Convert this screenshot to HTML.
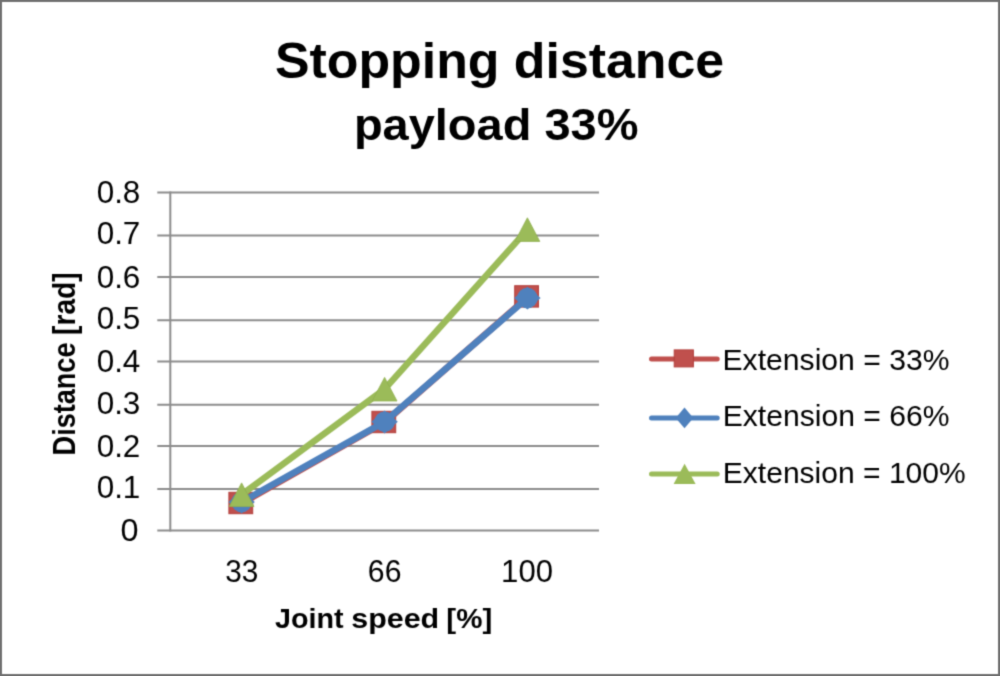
<!DOCTYPE html>
<html>
<head>
<meta charset="utf-8">
<style>
html,body{margin:0;padding:0;background:#fff;}
body{width:1000px;height:676px;overflow:hidden;}
svg{display:block;}
text{font-family:"Liberation Sans",Arial,sans-serif;fill:#000;font-kerning:none;}
.b{font-weight:bold;}
</style>
</head>
<body>
<svg width="1000" height="676" viewBox="0 0 1000 676">
<rect x="0" y="0" width="1000" height="676" fill="#fff"/>
<defs><filter id="sf" x="0" y="0" width="1000" height="676" filterUnits="userSpaceOnUse" color-interpolation-filters="sRGB"><feConvolveMatrix order="3" kernelMatrix="0.0277 0.1110 0.0277 0.1110 0.4452 0.1110 0.0277 0.1110 0.0277" divisor="1" edgeMode="duplicate"/></filter></defs>
<g id="all" filter="url(#sf)">

<text class="b" x="274.91" y="77.80" font-size="50" textLength="449.27" lengthAdjust="spacingAndGlyphs">Stopping distance</text>
<text class="b" x="353.90" y="139.80" font-size="44" textLength="284.53" lengthAdjust="spacingAndGlyphs">payload 33%</text>
<g stroke="#8c8c8c" stroke-width="2" fill="none">
<line x1="157.3" y1="530.50" x2="599" y2="530.50"/>
<line x1="157.3" y1="489.10" x2="599" y2="489.10"/>
<line x1="157.3" y1="446.00" x2="599" y2="446.00"/>
<line x1="157.3" y1="404.70" x2="599" y2="404.70"/>
<line x1="157.3" y1="361.40" x2="599" y2="361.40"/>
<line x1="157.3" y1="320.20" x2="599" y2="320.20"/>
<line x1="157.3" y1="277.00" x2="599" y2="277.00"/>
<line x1="157.3" y1="235.50" x2="599" y2="235.50"/>
<line x1="157.3" y1="192.50" x2="599" y2="192.50"/>
<line x1="170.3" y1="191.50" x2="170.3" y2="531.50"/>
</g>
<text x="120.63" y="540.75" font-size="30.8" textLength="18.03" lengthAdjust="spacingAndGlyphs">0</text>
<text x="96.67" y="497.70" font-size="30.8" textLength="43.69" lengthAdjust="spacingAndGlyphs">0.1</text>
<text x="96.67" y="456.50" font-size="30.8" textLength="43.69" lengthAdjust="spacingAndGlyphs">0.2</text>
<text x="96.67" y="413.50" font-size="30.8" textLength="43.69" lengthAdjust="spacingAndGlyphs">0.3</text>
<text x="96.67" y="371.80" font-size="30.8" textLength="43.69" lengthAdjust="spacingAndGlyphs">0.4</text>
<text x="96.67" y="328.70" font-size="30.8" textLength="43.69" lengthAdjust="spacingAndGlyphs">0.5</text>
<text x="96.67" y="287.50" font-size="30.8" textLength="43.69" lengthAdjust="spacingAndGlyphs">0.6</text>
<text x="96.67" y="244.40" font-size="30.8" textLength="43.69" lengthAdjust="spacingAndGlyphs">0.7</text>
<text x="96.67" y="203.00" font-size="30.8" textLength="43.69" lengthAdjust="spacingAndGlyphs">0.8</text>
<text x="225.27" y="582.20" font-size="30.8" textLength="33.14" lengthAdjust="spacingAndGlyphs">33</text>
<text x="367.87" y="582.20" font-size="30.8" textLength="33.56" lengthAdjust="spacingAndGlyphs">66</text>
<text x="501.13" y="582.20" font-size="30.8" textLength="51.88" lengthAdjust="spacingAndGlyphs">100</text>
<text class="b" x="275.07" y="627.70" font-size="28" textLength="68.59" lengthAdjust="spacingAndGlyphs">Joint</text>
<text class="b" x="351.33" y="627.70" font-size="28" textLength="87.87" lengthAdjust="spacingAndGlyphs">speed</text>
<text class="b" x="446.34" y="627.70" font-size="28" textLength="45.92" lengthAdjust="spacingAndGlyphs">[%]</text>
<g transform="translate(75.1,453.6) rotate(-90)">
<text class="b" x="-1.81" y="0.00" font-size="31" textLength="112.84" lengthAdjust="spacingAndGlyphs">Distance</text>
<text class="b" x="118.62" y="0.00" font-size="31" textLength="62.67" lengthAdjust="spacingAndGlyphs">[rad]</text>
</g>
<polyline points="241.6,503.3 384.6,422.5 527.4,297.4" fill="none" stroke="#C0504D" stroke-width="6.5" stroke-linejoin="round" stroke-linecap="round"/>
<rect x="228.90" y="492.30" width="23.8" height="21.4" fill="#C0504D" stroke="#B3403D" stroke-width="1"/>
<rect x="371.90" y="411.30" width="23.8" height="21.4" fill="#C0504D" stroke="#B3403D" stroke-width="1"/>
<rect x="514.70" y="285.70" width="23.8" height="21.4" fill="#C0504D" stroke="#B3403D" stroke-width="1"/>
<polyline points="241.6,502.0 384.6,421.8 527.4,298.0" fill="none" stroke="#4F81BD" stroke-width="6.5" stroke-linejoin="round" stroke-linecap="round"/>
<polygon points="241.60,490.80 254.80,502.00 241.60,513.60 228.40,502.00" fill="#4F81BD"/>
<circle cx="241.60" cy="502.00" r="10.3" fill="#4F81BD"/>
<polygon points="384.60,410.60 397.80,421.80 384.60,433.40 371.40,421.80" fill="#4F81BD"/>
<circle cx="384.60" cy="421.80" r="10.3" fill="#4F81BD"/>
<polygon points="527.40,286.80 540.60,298.00 527.40,309.60 514.20,298.00" fill="#4F81BD"/>
<circle cx="527.40" cy="298.00" r="10.3" fill="#4F81BD"/>
<polyline points="241.6,494.7 384.6,389.2 527.4,229.6" fill="none" stroke="#9BBB59" stroke-width="6.5" stroke-linejoin="round" stroke-linecap="round"/>
<polygon points="241.60,482.90 254.00,506.50 229.20,506.50" fill="#9BBB59" stroke="#8FAE4F" stroke-width="0.8"/>
<polygon points="384.60,377.40 397.00,401.00 372.20,401.00" fill="#9BBB59" stroke="#8FAE4F" stroke-width="0.8"/>
<polygon points="527.40,217.80 539.80,241.40 515.00,241.40" fill="#9BBB59" stroke="#8FAE4F" stroke-width="0.8"/>
<line x1="651.5" y1="359.1" x2="717.2" y2="359.1" stroke="#C0504D" stroke-width="5" stroke-linecap="round"/>
<line x1="651.5" y1="418.0" x2="717.2" y2="418.0" stroke="#4F81BD" stroke-width="5" stroke-linecap="round"/>
<line x1="651.5" y1="473.9" x2="717.2" y2="473.9" stroke="#9BBB59" stroke-width="5" stroke-linecap="round"/>
<rect x="674.2" y="349.9" width="19.2" height="17" fill="#C0504D" stroke="#B3403D" stroke-width="1"/>
<polygon points="684.5,407.4 693.3,417.9 684.5,428.2 675.7,417.9" fill="#4F81BD"/>
<polygon points="684.6,463.7 695.6,484.0 673.6,484.0" fill="#9BBB59"/>
<text x="722.53" y="370.00" font-size="29" textLength="227.05" lengthAdjust="spacingAndGlyphs">Extension = 33%</text>
<text x="722.73" y="426.40" font-size="29" textLength="226.84" lengthAdjust="spacingAndGlyphs">Extension = 66%</text>
<text x="722.84" y="482.70" font-size="29" textLength="242.83" lengthAdjust="spacingAndGlyphs">Extension = 100%</text>
<rect x="1" y="1" width="998" height="674" fill="none" stroke="#707070" stroke-width="2"/>
</g>
</svg>
</body>
</html>
